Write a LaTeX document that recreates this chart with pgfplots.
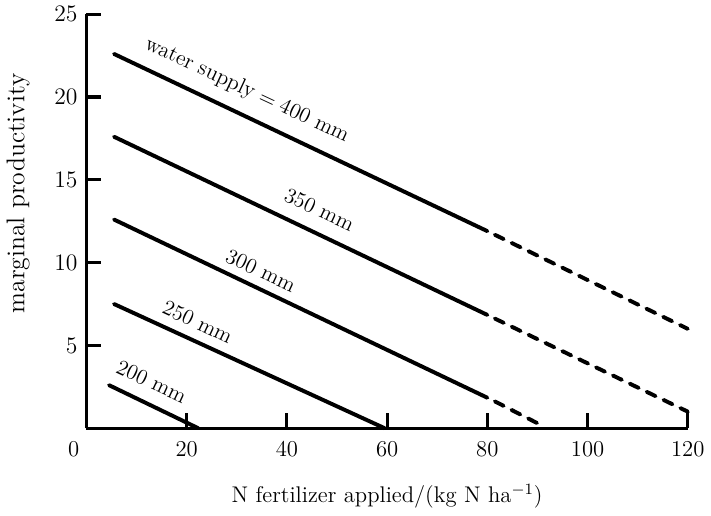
\documentclass[border=0pt]{standalone}
\usepackage{pgfplots}
\pgfplotsset{compat=1.18}

\begin{document}
\begin{tikzpicture}
\begin{axis}[
    scale only axis,
    width=305pt, height=210pt,
    xmin=0, xmax=120, ymin=0, ymax=25,
    axis x line*=bottom, axis y line*=left,
    axis line style={line width=1.6pt, -},
    xtick={0,20,40,60,80,100,120},
    xticklabels={0\kern13pt,20,40,60,80,100,120},
    ytick={5,10,15,20,25},
    tick align=inside,
    major tick length=7.5pt,
    tick style={line width=1.6pt, black},
    ticklabel style={font=\fontsize{11.5}{13}\selectfont},
    xticklabel style={yshift=-3pt},
    yticklabel style={xshift=-1pt},
    xlabel={N fertilizer applied/(kg N ha$^{-1}$)},
    ylabel={marginal productivity},
    xlabel style={font=\fontsize{11.5}{14}\selectfont, yshift=-7pt},
    ylabel style={font=\fontsize{13}{15}\selectfont,
        at={(axis description cs:-0.083,0.567)}, anchor=south},
    clip=false,
]
% solid parts (observed range)
\addplot[black, line width=2pt, line cap=round, no marks] coordinates {(5.5,22.6) (80,11.9)};
\addplot[black, line width=2pt, line cap=round, no marks] coordinates {(5.5,17.6) (80,6.84)};
\addplot[black, line width=2pt, line cap=round, no marks] coordinates {(5.5,12.6) (80,1.84)};
\addplot[black, line width=2pt, line cap=round, no marks] coordinates {(5.5,7.5) (59.5,0)};
\addplot[black, line width=2pt, line cap=round, no marks] coordinates {(4.5,2.6) (22.3,0)};
% extrapolated parts
\addplot[black, line width=2pt, line cap=round, no marks, dash pattern=on 5pt off 4.5pt] coordinates {(81.5,11.68) (120,6.0)};
\addplot[black, line width=2pt, line cap=round, no marks, dash pattern=on 5pt off 4.5pt] coordinates {(81.5,6.62) (120,1.0)};
\addplot[black, line width=2pt, line cap=round, no marks, dash pattern=on 5pt off 4.5pt] coordinates {(81.5,1.62) (90,0.3)};

\begin{scope}[every node/.style={font=\fontsize{11}{13}\selectfont, rotate=-25}]
\node at (axis cs:32,20.4) {water supply${}={}$400 mm};
\node at (axis cs:46.5,13.2) {350 mm};
\node at (axis cs:34.8,9.5) {300 mm};
\node at (axis cs:22.2,6.4) {250 mm};
\node at (axis cs:13,2.8) {200 mm};
\end{scope}
\end{axis}
\end{tikzpicture}
\end{document}
